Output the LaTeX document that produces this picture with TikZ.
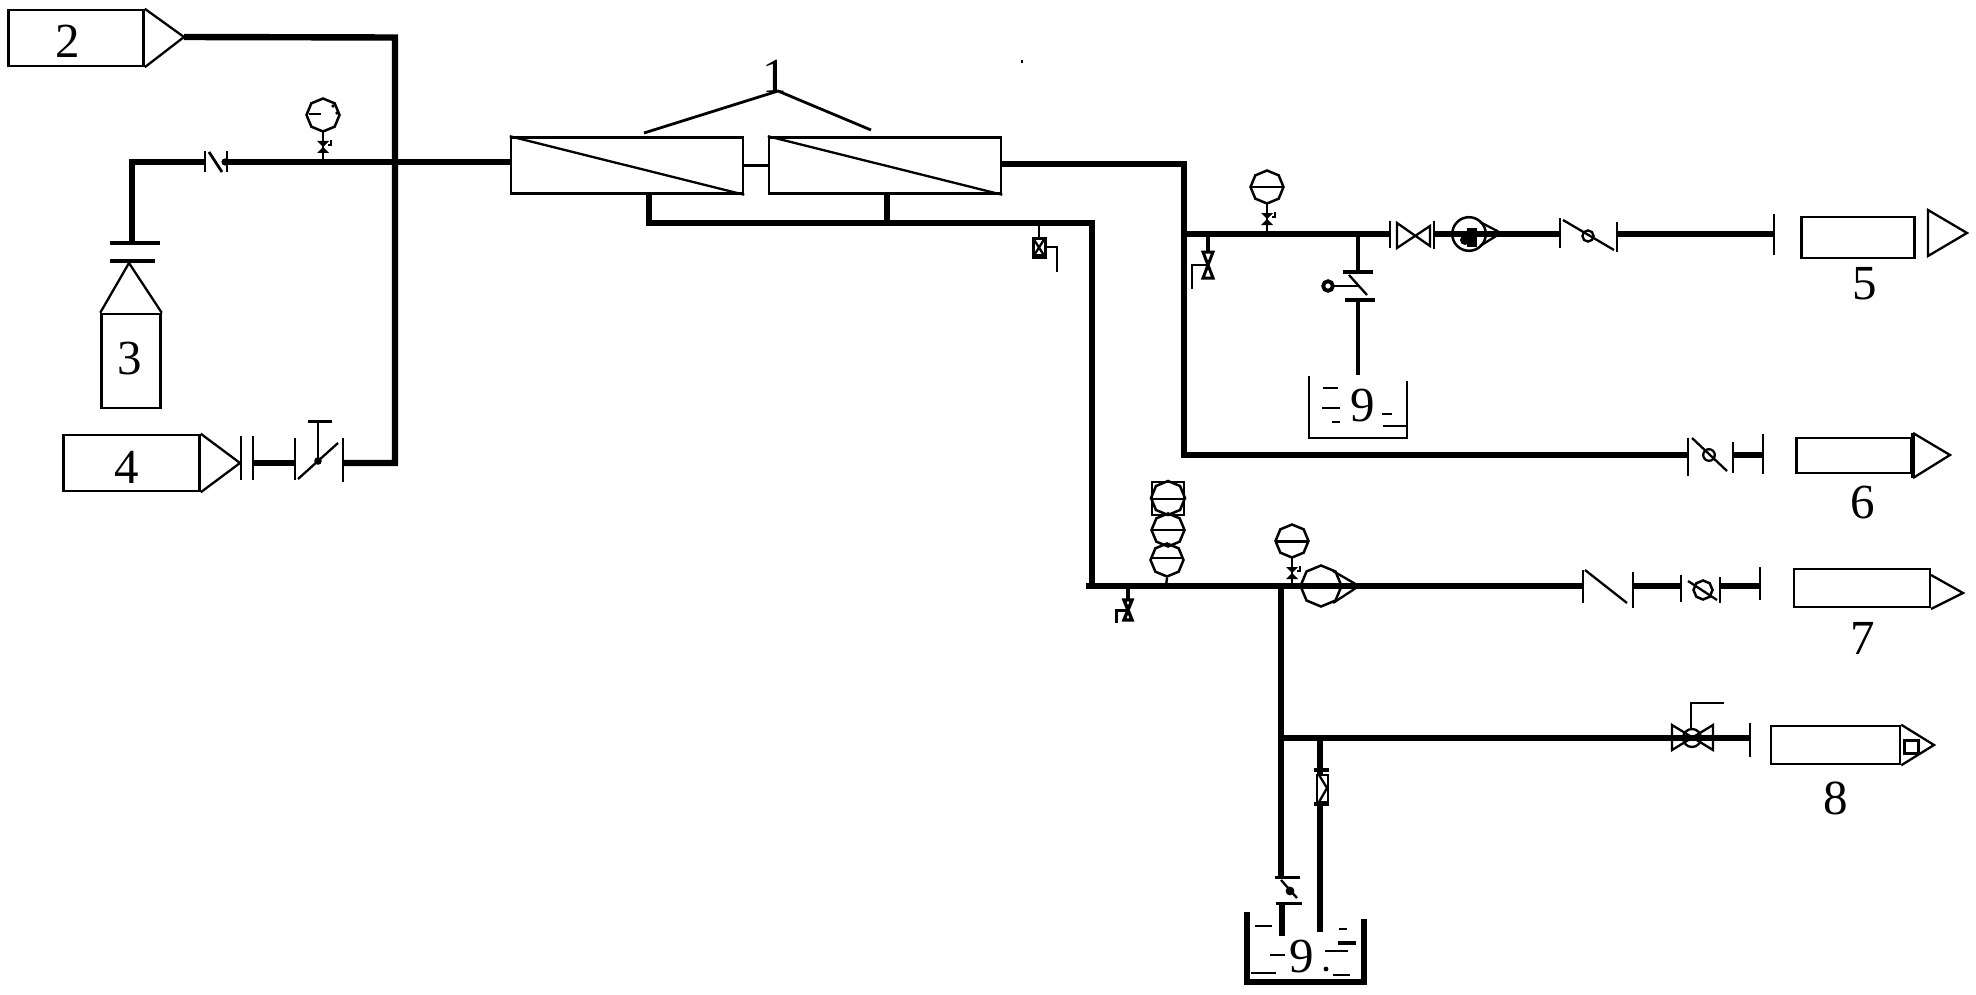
\documentclass[tikz,border=0pt]{standalone}
\usepackage{fontspec}
\setmainfont{Liberation Serif}
\usetikzlibrary{shapes.geometric,calc}
\tikzset{
  pipe/.style={line width=3.2pt,line cap=butt,line join=miter},
  midpipe/.style={line width=1.8pt,line cap=butt,line join=miter},
  thinl/.style={line width=1.15pt,line join=miter},
  stemline/.style={line width=1.2pt},
  tick/.style={line width=1.2pt},
  boxn/.style={draw,line width=1.25pt,rectangle,inner sep=0pt,font=\numfont},
  lab/.style={inner sep=0pt,font=\numfont},
  octa/.style={draw,line width=1.25pt,regular polygon,regular polygon sides=8,inner sep=0pt,shape border rotate=22.5},
  gaugebase/.pic={
    \node[octa,minimum size=16.5pt] (-o) at (0,0) {};
    \draw[stemline] (0,15) -- (0,45);
    \fill (-6,26) -- (6,26) -- (0,32) -- (6,38) -- (-6,38) -- (0,32) -- cycle;
    \draw[stemline] (5,30) -- (8,30) -- (8,25);
  },
  drainv/.pic={
    \draw[line width=1.6pt] (0,0) -- (0,16);
    \draw[line width=1.5pt,line join=miter] (-5,16) -- (5,16) -- (-5,42) -- (5,42) -- cycle;
    \draw[stemline] (0,29) -- (-16,29) -- (-16,53);
  },
  drains/.pic={
    \draw[line width=1.6pt] (0,0) -- (0,14);
    \draw[line width=1.7pt,line join=miter] (-4,14) -- (4,14) -- (-4,34) -- (4,34) -- cycle;
    \draw[line width=1.5pt] (0,24) -- (-12,24) -- (-12,37);
  },
}
\newcommand{\numfont}{\fontsize{24.5}{28}\selectfont}
\begin{document}
\begin{tikzpicture}[x=0.5pt,y=-0.5pt]
\useasboundingbox (0,0) rectangle (1976,995);
\fill (1021,60) rectangle (1023,63);
% ---- equipment boxes
\node[boxn,minimum width=67.5pt,minimum height=28pt] (b2) at (76,38) {};
\node[boxn,minimum width=29.5pt,minimum height=47pt] (b3) at (131,361) {};
\node[boxn,minimum width=68pt,minimum height=28pt] (b4) at (131.5,463) {};
\node[boxn,minimum width=56.5pt,minimum height=20.5pt] (b5) at (1858,237.5) {};
\node[boxn,minimum width=57.5pt,minimum height=17.5pt] (b6) at (1854,455.5) {};
\node[boxn,minimum width=68pt,minimum height=19pt] (b7) at (1862,588) {};
\node[boxn,minimum width=64.5pt,minimum height=19pt] (b8) at (1835.5,745) {};
\node[boxn,minimum width=116pt,minimum height=28pt] (m1) at (627,165.5) {};
\node[boxn,minimum width=116pt,minimum height=28pt] (m2) at (885,165.5) {};
\draw[thinl] (m1.north west) -- (m1.south east);
\draw[thinl] (m2.north west) -- (m2.south east);
\draw[thinl] (m1.east) -- (m2.west);
% ---- labels
\node[lab] (l1) at (775,76) {1};
\node[lab] (l2) at (68,41) {2};
\node[lab] (l3) at (130,359) {3};
\node[lab] (l4) at (127,467) {4};
\node[lab] (l5) at (1865,284) {5};
\node[lab] (l6) at (1863,503) {6};
\node[lab] (l7) at (1863,638) {7};
\node[lab] (l8) at (1836,798) {8};
\node[lab] (l9a) at (1363,406) {9};
\node[lab] (l9b) at (1302,957) {9};
% leader of label 1
\coordinate (ap) at (778,91);
\coordinate (lm1) at (644,133);
\coordinate (lm2) at (871,130);
\draw[thinl,line width=1.4pt] (lm1) -- (ap) -- (lm2);
% ---- cone ends
\coordinate (t2) at (184,37);
\draw[thinl] (b2.north east) -- (t2) -- (b2.south east);
\coordinate (t3) at (129,263);
\draw[thinl] (b3.north west) -- (t3) -- (b3.north east);
\coordinate (t4) at (240,463);
\draw[thinl] (b4.north east) -- (t4) -- (b4.south east);
\draw[thinl] (1928,210) -- (1967,233) -- (1928,256) -- cycle;
\draw[line width=2pt] (1913,433) -- (1913,478);
\draw[thinl] (1913,433) -- (1950,455) -- (1913,478);
\draw[thinl] (1931,575) -- (1963,593) -- (1931,609);
\draw[thinl] (b8.north east) -- (1934,745) -- (b8.south east);
\draw[line width=1.5pt] (1904,740) rectangle (1918,753);
% ---- named pipe joints
\coordinate (v1l) at (205,162);
\coordinate (v1r) at (227,162);
\coordinate (c1) at (132,162);
\coordinate (f3) at (132,243);
\coordinate (j1) at (395,37.5);
\coordinate (j2) at (395,463);
\coordinate (f4a) at (253,463);
\coordinate (f4b) at (295,463);
\coordinate (f4c) at (343,463);
\coordinate (o1) at (1184,164);
\coordinate (o2) at (1184,455);
\coordinate (o3) at (1184,234);
\coordinate (f5a) at (1390,234);
\coordinate (f5b) at (1434,234);
\coordinate (f5c) at (1560,234);
\coordinate (f5d) at (1617,234);
\coordinate (f5e) at (1774,234);
\coordinate (f6a) at (1688,455);
\coordinate (f6b) at (1733,455);
\coordinate (f6c) at (1763,455);
\coordinate (s1) at (649,192);
\coordinate (s2) at (887,192);
\coordinate (s1b) at (649,223);
\coordinate (s2b) at (887,223);
\coordinate (k1) at (1092,223);
\coordinate (k2) at (1092,586);
\coordinate (k3) at (1086,586);
\coordinate (f7a) at (1583,586);
\coordinate (f7b) at (1633,586);
\coordinate (f7c) at (1681,586);
\coordinate (f7d) at (1720,586);
\coordinate (f7e) at (1760,586);
\coordinate (t7) at (1281,586);
\coordinate (t8) at (1281,738);
\coordinate (f8) at (1750,738);
\coordinate (q1) at (1281,878);
\coordinate (q2) at (1282,903);
\coordinate (q3) at (1282,936);
\coordinate (r1) at (1320,738);
\coordinate (r2) at (1320,932);
\coordinate (d1) at (1358,234);
\coordinate (d2) at (1358,272);
\coordinate (d3) at (1358,300);
\coordinate (d4) at (1358,375);
% ---- pipes
\draw[pipe] (t2) -- (j1) -- (j2) -- (f4c);
\draw[pipe] (f3) -- (c1) -- (v1l);
\draw[pipe] (v1r) -- (v1r -| m1.west);
\draw[pipe] (f4a) -- (f4b);
\draw[pipe] (m2.east |- o1) -- (o1) -- (o2) -- (f6a);
\draw[pipe] (o3) -- (f5a);
\draw[pipe] (f5b) -- (f5c);
\draw[pipe] (f5d) -- (f5e);
\draw[pipe] (f6b) -- (f6c);
\draw[pipe] (s1) -- (s1b) -- (k1) -- (k2);
\draw[pipe] (s2) -- (s2b);
\draw[pipe] (k3) -- (f7a);
\draw[pipe] (f7b) -- (f7c);
\draw[pipe] (f7d) -- (f7e);
\draw[pipe] (t7) -- (q1);
\draw[pipe] (t8) -- (f8);
\draw[pipe] (q2) -- (q3);
\draw[line width=2.8pt] (r1) -- (r2);
\draw[midpipe] (d1) -- (d2);
\draw[midpipe] (d3) -- (d4);
% ---- 3 coupling
\draw[line width=1.6pt] (110,243) -- (160,243);
\draw[line width=1.6pt] (110,261) -- (155,261);
% ---- check valve on line 3
\draw[tick] (205,151) -- (205,172);
\draw[tick] (227,151) -- (227,172);
\draw[line width=1.4pt] (209,152) -- (222,172);
\fill (225,162) circle (1.8pt);
% ---- valve on line 4
\draw[tick] (241,436) -- (241,480);
\draw[tick] (253,436) -- (253,480);
\draw[tick] (295,438) -- (295,480);
\draw[tick] (343,438) -- (343,482);
\draw[thinl] (298,479) -- (338,443);
\fill (318,461) circle (1.9pt);
\draw[stemline] (318,461) -- (318,422);
\draw[line width=1.5pt] (308,421) -- (332,421);
% ---- gauges
\pic at (323,115) {gaugebase};
\draw[thinl] (309,114) -- (321,114);
\fill (337,113) circle (0.9pt) (333,106) circle (0.9pt);
\pic at (1267,187) {gaugebase};
\draw[thinl] (1252,187) -- (1282,187);
\pic at (1292,541) {gaugebase};
\draw[line width=1.5pt] (1277,541) -- (1307,541);
\node[octa,minimum size=17pt] (g1) at (1168,498) {};
\draw[line width=1.3pt] (1152,482) rectangle (1184,515);
\draw[thinl] (1152,499) -- (1184,499);
\node[octa,minimum size=16.5pt] (g2) at (1168,530) {};
\draw[thinl] (1153,530) -- (1183,530);
\node[octa,minimum size=16.5pt] (g3) at (1167,560) {};
\draw[thinl] (1152,558) -- (1182,558);
\draw[stemline] (g3.south) -- (1166,586);
% ---- drains
\pic at (1208,236) {drainv};
\pic at (1128,586) {drains};
% ---- line 5 valves
\draw[tick] (1390,221) -- (1390,248);
\draw[tick] (1434,221) -- (1434,249);
\draw[thinl] (1397,223) -- (1397,248) -- (1430,226) -- (1430,246) -- cycle;
\draw[line width=1.25pt] (1469,234) circle (8.4pt);
\draw[thinl] (1480,222) -- (1501,233) -- (1480,246);
\fill (1467,228) rectangle (1477,247);
\fill (1465,240) circle (2.5pt);
\draw[tick] (1560,218) -- (1560,248);
\draw[thinl] (1563,220) -- (1614,250);
\draw[thinl] (1588,236) circle (2.8pt);
\draw[tick] (1617,222) -- (1617,252);
\draw[tick] (1774,214) -- (1774,255);
% ---- branch to tank 9
\draw[line width=1.8pt] (1343,272) -- (1373,272);
\draw[line width=1.8pt] (1345,300) -- (1375,300);
\draw[thinl] (1349,275) -- (1367,295);
\draw[stemline] (1334,286) -- (1358,286);
\draw[line width=1.9pt] (1328,286) circle (2.4pt);
\draw[thinl] (1309,376) -- (1309,438) -- (1407,438) -- (1407,381);
\draw[thinl] (1323,388) -- (1338,388);
\draw[thinl] (1322,408) -- (1340,408);
\draw[thinl] (1332,422) -- (1340,422);
\draw[thinl] (1382,414) -- (1392,414);
\draw[thinl] (1383,426) -- (1407,426);
% ---- line 6 valve
\draw[tick] (1688,438) -- (1688,476);
\draw[thinl] (1692,438) -- (1727,471);
\draw[thinl] (1709,455) circle (2.9pt);
\draw[tick] (1733,442) -- (1733,473);
\draw[tick] (1763,434) -- (1763,474);
% ---- flow meter on the manifold
\coordinate (fm) at (1039,223);
\draw[stemline] (fm) -- (1039,238);
\draw[line width=1.5pt] (1033,238) rectangle (1045,257);
\draw[thinl] (1033,238) -- (1045,257) (1045,238) -- (1033,257);
\draw[line width=1.8pt] (1033,256) -- (1045,256);
\draw[stemline] (1045,247) -- (1057,247) -- (1057,272);
% ---- line 7
\node[octa,minimum size=20.5pt] (pu2) at (1321,586) {};
\draw[thinl] (1333,571) -- (1359,586) -- (1333,603);
\draw[tick] (1583,570) -- (1583,603);
\draw[thinl] (1585,570) -- (1627,603);
\draw[tick] (1633,572) -- (1633,608);
\draw[tick] (1681,575) -- (1681,602);
\draw[thinl] (1688,581) -- (1717,600);
\node[octa,minimum size=9.5pt] (vo) at (1703,590) {};
\draw[tick] (1720,577) -- (1720,603);
\draw[tick] (1760,567) -- (1760,600);
% ---- line 8
\draw[thinl] (1672,725) -- (1672,750) -- (1713,725) -- (1713,750) -- cycle;
\draw[thinl] (1692,738) circle (4.5pt);
\draw[stemline] (1691,730) -- (1691,703) -- (1724,703);
\draw[tick] (1750,723) -- (1750,757);
% ---- vertical flow meter
\draw[line width=1.7pt] (1314,770) -- (1329,770);
\fill[white] (1317,775) rectangle (1328,802);
\draw[line width=1.3pt] (1317,775) rectangle (1328,802);
\draw[thinl] (1319,775) -- (1327,788) -- (1319,802);
\draw[line width=1.7pt] (1314,804) -- (1329,804);
% ---- valve to tank
\draw[line width=1.5pt] (1275,877) -- (1300,877);
\draw[thinl] (1281,880) -- (1297,898);
\fill (1290,891) circle (2.2pt);
\draw[line width=1.5pt] (1276,903) -- (1302,903);
% ---- lower tank
\draw[line width=2.8pt] (1247,912) -- (1247,982) -- (1364,982) -- (1364,919);
\draw[thinl] (1255,926) -- (1272,926);
\draw[thinl] (1270,955) -- (1285,955);
\draw[line width=1.4pt] (1251,973) -- (1276,973);
\draw[thinl] (1339,929) -- (1347,929);
\draw[line width=1.6pt] (1338,943) -- (1356,943);
\draw[thinl] (1325,951) -- (1348,951);
\draw[thinl] (1333,975) -- (1350,975);
\fill (1326,969) circle (1.2pt);
\end{tikzpicture}
\end{document}
